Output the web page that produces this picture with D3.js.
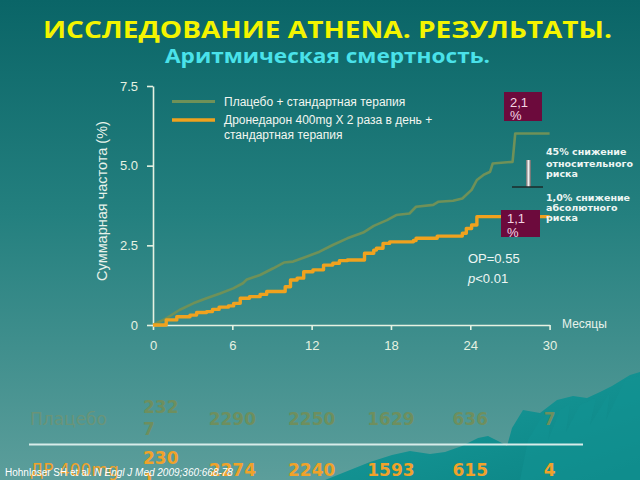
<!DOCTYPE html>
<html>
<head>
<meta charset="utf-8">
<script src="https://cdn.jsdelivr.net/npm/d3@7"></script>
<style>
  html, body { margin: 0; padding: 0; background: #0b6868; }
  svg { display: block; }
</style>
</head>
<body>
<script>
// ---------- DATA ----------
const placeboMonths = [0,1.0,2.0,3.05,4.05,5.07,6.07,6.8,7.1,8.1,9.1,9.9,10.6,11.6,12.6,13.6,14.7,15.9,16.7,17.7,18.4,19.4,19.9,21.2,21.6,22.7,23.4,24.1,24.5,25.0,25.5,25.7,27.2,27.4,30];
const placeboPct    = [0,0.21,0.47,0.68,0.84,0.99,1.15,1.31,1.43,1.57,1.78,1.96,1.99,2.14,2.30,2.51,2.72,2.90,3.11,3.29,3.45,3.50,3.71,3.77,3.87,3.90,3.97,4.24,4.55,4.71,4.81,5.07,5.12,6.01,6.01];
const droneMonths = [0,1.0,1.8,2.8,3.3,4.05,4.5,5.0,5.7,6.1,6.6,7.3,8.1,8.6,10.0,10.4,10.9,11.4,12.1,12.9,13.6,14.1,14.7,16.0,16.7,16.9,17.4,17.9,19.7,19.9,21.5,23.4,23.7,24.1,24.5,30];
const dronePct    = [0,0.16,0.26,0.31,0.39,0.42,0.49,0.56,0.60,0.68,0.84,0.89,0.96,1.05,1.20,1.41,1.47,1.67,1.73,1.88,1.94,2.02,2.04,2.25,2.35,2.41,2.56,2.61,2.65,2.72,2.79,2.88,3.03,3.14,3.40,3.40];

const xTicks = [0,6,12,18,24,30];
const xTickLabels = ["0","6","12","18","24","30"];
const yTicks = [0,2.5,5,7.5];
const yTickLabels = ["0","2.5","5.0","7.5"];

const seriesNames = ["Плацебо + стандартная терапия", "Дронедарон 400mg X 2 раза в день +", "стандартная терапия"];
const tableRowNames = ["Плацебо", "ДР 400mg"];
const placeboAtRisk = ["2327","2290","2250","1629","636","7"];
const droneAtRisk   = ["2301","2274","2240","1593","615","4"];

const titleText = "ИССЛЕДОВАНИЕ ATHENA. РЕЗУЛЬТАТЫ.";
const subtitleText = "Аритмическая смертность.";

// ---------- SETUP ----------
const W = 640, H = 480;
const svg = d3.select("body").append("svg").attr("width", W).attr("height", H);
const defs = svg.append("defs");

const bg = defs.append("linearGradient").attr("id","bg").attr("x1",0).attr("y1",0).attr("x2",0).attr("y2",1);
bg.append("stop").attr("offset","0%").attr("stop-color","#0a6567");
bg.append("stop").attr("offset","45%").attr("stop-color","#24807f");
bg.append("stop").attr("offset","100%").attr("stop-color","#5c9e9b");
svg.append("rect").attr("width",W).attr("height",H).attr("fill","url(#bg)");

// decorative mountain bottom-right
const mg = defs.append("linearGradient").attr("id","mtn").attr("x1",0).attr("y1",0).attr("x2",1).attr("y2",1);
mg.append("stop").attr("offset","0%").attr("stop-color","#1a9e9e");
mg.append("stop").attr("offset","100%").attr("stop-color","#0b8484");
svg.append("path")
  .attr("d","M325,480 L345,472 L370,462 L392,455 L410,451 L430,454 L445,452 L462,446 L478,438 L488,436 L500,442 L507,446 L512,428 L523,410 L540,413 L557,400 L573,396 L587,398 L600,392 L612,386 L630,375 L640,372 L640,480 Z")
  .attr("fill","url(#mtn)");
svg.append("path")
  .attr("d","M520,480 L528,440 L540,420 L552,412 L548,440 L560,410 L570,404 L566,432 L580,405 L596,398 L590,425 L610,392 L606,420 L625,380 L640,376 L640,480 Z")
  .attr("fill","#129292").attr("opacity",0.6);

// ---------- TITLES ----------
svg.append("text").attr("x",43).attr("y",38)
  .attr("font-family","'Open Sans', 'DejaVu Sans', sans-serif").attr("font-weight","bold")
  .attr("font-size",23).attr("fill","#f4f400")
  .attr("textLength",569).attr("lengthAdjust","spacingAndGlyphs")
  .text(titleText);
svg.append("text").attr("x",165).attr("y",63)
  .attr("font-family","'Open Sans', 'DejaVu Sans', sans-serif").attr("font-weight","bold")
  .attr("font-size",20).attr("fill","#4ae2ea")
  .attr("textLength",325).attr("lengthAdjust","spacingAndGlyphs")
  .text(subtitleText);

// ---------- CHART ----------
const x = d3.scaleLinear().domain([0,30]).range([153,549.6]);
const y = d3.scaleLinear().domain([0,7.5]).range([325,86]);
const axisColor = "#e6f2e2";
const font = "'Liberation Sans', Arial, sans-serif";

const yAxis = svg.append("g").attr("transform","translate(153,0)")
  .call(d3.axisLeft(y).tickValues(yTicks).tickFormat((d,i)=>yTickLabels[i]).tickSize(6).tickSizeOuter(0).tickPadding(9));
const xAxis = svg.append("g").attr("transform","translate(0,325)")
  .call(d3.axisBottom(x).tickValues(xTicks).tickFormat((d,i)=>xTickLabels[i]).tickSize(5).tickSizeOuter(0).tickPadding(11));
[yAxis, xAxis].forEach(g => {
  g.selectAll("path,line").attr("stroke",axisColor).attr("stroke-width",1.6);
  g.selectAll("text").attr("fill",axisColor).attr("font-family",font).attr("font-size",13);
});

svg.append("text")
  .attr("transform","translate(107,201) rotate(-90)")
  .attr("text-anchor","middle").attr("font-family",font).attr("font-size",14.5)
  .attr("fill","#e8f2ea").text("Суммарная частота (%)");

svg.append("text").attr("x",562).attr("y",328)
  .attr("font-family",font).attr("font-size",12).attr("fill","#e8f2ea").text("Месяцы");

const lineStep = d3.line().x(d=>x(d[0])).y(d=>y(d[1])).curve(d3.curveStepAfter);
const lineSmooth = d3.line().x(d=>x(d[0])).y(d=>y(d[1])).curve(d3.curveLinear);
const placeboData = placeboMonths.map((m,i)=>[m,placeboPct[i]]);
const droneData = droneMonths.map((m,i)=>[m,dronePct[i]]);

const green = "#6f9158", orange = "#f0a21e";
svg.append("path").datum(placeboData).attr("d",lineSmooth).attr("fill","none")
  .attr("stroke",green).attr("stroke-width",2.6).attr("stroke-linejoin","round");
svg.append("path").datum(droneData).attr("d",lineStep).attr("fill","none")
  .attr("stroke",orange).attr("stroke-width",3.4).attr("stroke-linejoin","round");

// legend
svg.append("line").attr("x1",172).attr("x2",215).attr("y1",101.5).attr("y2",101.5)
  .attr("stroke",green).attr("stroke-width",3);
svg.append("line").attr("x1",172).attr("x2",215).attr("y1",120).attr("y2",120)
  .attr("stroke",orange).attr("stroke-width",3.5);
const legText = svg.append("g").attr("font-family",font).attr("font-size",12).attr("fill","#f2f6f0");
legText.append("text").attr("x",224).attr("y",105.5).text(seriesNames[0]);
legText.append("text").attr("x",224).attr("y",123.5).text(seriesNames[1]);
legText.append("text").attr("x",224).attr("y",138.5).text(seriesNames[2]);

// percentage boxes
function pctBox(x0,y0,w,h,val,tb1,tb2){
  svg.append("rect").attr("x",x0).attr("y",y0).attr("width",w).attr("height",h).attr("fill","#6c0a3c");
  svg.append("text").attr("x",x0+6).attr("y",tb1).attr("font-family",font).attr("font-size",13).attr("fill","#f4d6e4").text(val);
  svg.append("text").attr("x",x0+6).attr("y",tb2).attr("font-family",font).attr("font-size",13).attr("fill","#f4d6e4").text("%");
}
pctBox(504,92,38,29,"2,1",107,120);
pctBox(501,210,39,27,"1,1",223,237);

// arrow marker
const ag = defs.append("linearGradient").attr("id","bar").attr("x1",0).attr("x2",1).attr("y1",0).attr("y2",0);
ag.append("stop").attr("offset","0%").attr("stop-color","#6a6a6a");
ag.append("stop").attr("offset","50%").attr("stop-color","#f0f0f0");
ag.append("stop").attr("offset","100%").attr("stop-color","#5a5a5a");
svg.append("rect").attr("x",526).attr("y",160).attr("width",5).attr("height",27).attr("fill","url(#bar)");
svg.append("line").attr("x1",512).attr("x2",543).attr("y1",187).attr("y2",187).attr("stroke","#1b2b2a").attr("stroke-width",1.5);

const notes = svg.append("g").attr("font-family","'DejaVu Sans', Verdana, sans-serif").attr("font-weight","bold")
  .attr("font-size",9.5).attr("fill","#eef6f4");
[["45% снижение",155],["относительного",166.5],["риска",177],["1,0% снижение",200.5],["абсолютного",210.5],["риска",220.5]]
  .forEach(([t,yy]) => notes.append("text").attr("x",546).attr("y",yy).text(t));

// stats
svg.append("text").attr("x",468).attr("y",263).attr("font-family",font).attr("font-size",13).attr("fill","#eef6f4").text("ОР=0.55");
const pt = svg.append("text").attr("x",468).attr("y",283).attr("font-family",font).attr("font-size",13).attr("fill","#eef6f4");
pt.append("tspan").attr("font-style","italic").text("p");
pt.append("tspan").text("<0.01");

// ---------- AT-RISK TABLE ----------
const tFont = "'DejaVu Sans', Verdana, sans-serif";
function tableRow(name, vals, base, color, nameColor){
  svg.append("text").attr("x",30).attr("y",base).attr("font-family",tFont).attr("font-size",17)
    .attr("fill",nameColor).text(name);
  vals.forEach((v,i) => {
    if (i === 0) {
      const t = svg.append("text").attr("font-family",tFont).attr("font-weight","bold").attr("font-size",17).attr("fill",color);
      t.append("tspan").attr("x",x(xTicks[0]) - 10).attr("y",base-12).text(v.slice(0,3));
      t.append("tspan").attr("x",x(xTicks[0]) - 10).attr("y",base+10).text(v.slice(3));
    } else {
      svg.append("text").attr("x",x(xTicks[i])).attr("y",base).attr("text-anchor","middle")
        .attr("font-family",tFont).attr("font-weight","bold").attr("font-size",17).attr("fill",color).text(v);
    }
  });
}
tableRow(tableRowNames[0], placeboAtRisk, 425, "#6e8f5e", "#6a9478");
svg.append("line").attr("x1",29).attr("x2",583).attr("y1",444.5).attr("y2",444.5).attr("stroke","#d8ecea").attr("stroke-width",2);
tableRow(tableRowNames[1], droneAtRisk, 476, "#f0a22a", "#f0a22a");

// citation
const cit = svg.append("text").attr("x",5).attr("y",476).attr("font-family",font).attr("font-size",10).attr("fill","#ffffff");
cit.append("tspan").text("Hohnloser SH et al. ");
cit.append("tspan").attr("font-style","italic").text("N Engl J Med 2009;360:668-78");
</script>
</body>
</html>
